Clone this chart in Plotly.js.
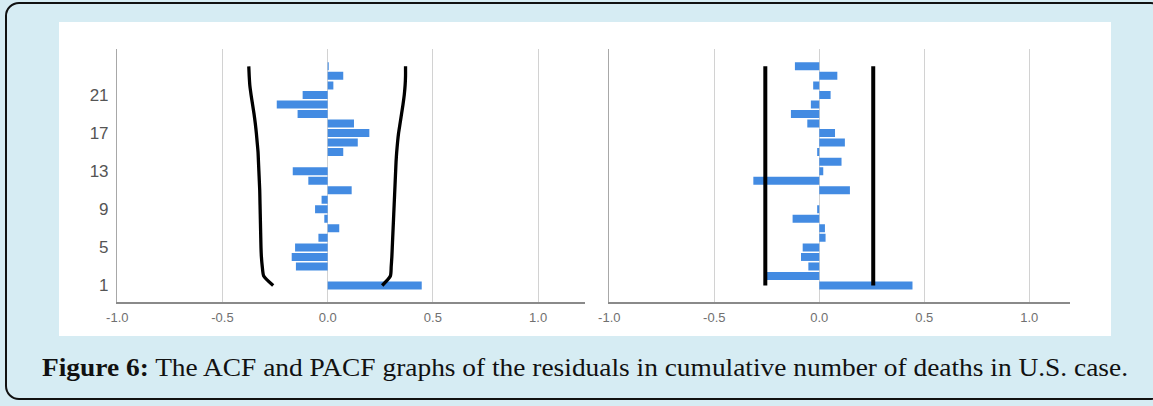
<!DOCTYPE html>
<html>
<head>
<meta charset="utf-8">
<script src="https://cdn.plot.ly/plotly-3.0.1.min.js"></script>
<style>
  html, body { margin: 0; padding: 0; }
  body { width: 1153px; height: 406px; overflow: hidden; background: #D6ECF3; position: relative; }
  #frame { position: absolute; left: 5px; top: 2px; width: 1160px; height: 398px;
           border: 2px solid #111; border-radius: 14px; box-sizing: border-box; }
  #chart { position: absolute; left: 59px; top: 22px; width: 1052px; height: 314px; background: #fff; }
  #caption { position: absolute; left: 42px; top: 355px; white-space: nowrap;
             font-family: "Liberation Serif", "DejaVu Serif", serif; font-size: 25px;
             line-height: 25px; color: #111; transform-origin: 0 0; }
  #caption b { font-weight: bold; }
</style>
</head>
<body>
<div id="frame"></div>
<div id="chart"></div>
<div id="caption"><b>Figure 6:</b> The ACF and PACF graphs of the residuals in cumulative number of deaths in U.S. case.</div>
<script>
// Lag numbers
var lags = [1,2,3,4,5,6,7,8,9,10,11,12,13,14,15,16,17,18,19,20,21,22,23,24];
// ACF of residuals (left panel)
var acfValues = [0.447, 0.000, -0.151, -0.171, -0.155, -0.044, 0.055, -0.016, -0.060, -0.029,
                 0.114, -0.092, -0.166, 0.000, 0.074, 0.143, 0.198, 0.125, -0.143, -0.242,
                 -0.119, 0.027, 0.074, 0.005];
// ACF confidence limits (curved)
var acfUpper = [0.259, 0.298, 0.302, 0.305, 0.307, 0.309, 0.311, 0.313, 0.315, 0.317,
                0.319, 0.321, 0.323, 0.325, 0.328, 0.332, 0.337, 0.344, 0.351, 0.358,
                0.364, 0.368, 0.370, 0.370];
var acfLower = [-0.259, -0.304, -0.311, -0.315, -0.317, -0.318, -0.319, -0.320, -0.321, -0.322,
                -0.323, -0.325, -0.327, -0.329, -0.331, -0.335, -0.339, -0.344, -0.350, -0.357,
                -0.364, -0.370, -0.373, -0.375];
// PACF of residuals (right panel)
var pacfValues = [0.444, -0.254, -0.052, -0.087, -0.079, 0.030, 0.027, -0.127, -0.010, 0.000,
                  0.146, -0.314, 0.019, 0.106, -0.010, 0.122, 0.075, -0.057, -0.135, -0.040,
                  0.054, -0.029, 0.086, -0.116];
// PACF confidence limit (constant)
var pacfLimit = 0.257;
// Axis tick labels
var xTickVals = [-1, -0.5, 0, 0.5, 1];
var xTickText = ['-1.0', '-0.5', '0.0', '0.5', '1.0'];
var yTickVals = [1, 5, 9, 13, 17, 21];
var yTickText = ['1', '5', '9', '13', '17', '21'];

var barColor = '#438BE2';
var firstLag = lags[0], lastLag = lags[lags.length - 1];

var traces = [
  { type: 'bar', orientation: 'h', x: acfValues, y: lags, xaxis: 'x', yaxis: 'y',
    marker: { color: barColor, line: { width: 0 } }, hoverinfo: 'x+y' },
  { type: 'scatter', mode: 'lines', x: acfUpper, y: lags, xaxis: 'x', yaxis: 'y',
    line: { color: '#000', width: 3.3, shape: 'spline', smoothing: 0.6 } },
  { type: 'scatter', mode: 'lines', x: acfLower, y: lags, xaxis: 'x', yaxis: 'y',
    line: { color: '#000', width: 3.3, shape: 'spline', smoothing: 0.6 } },
  { type: 'bar', orientation: 'h', x: pacfValues, y: lags, xaxis: 'x2', yaxis: 'y2',
    marker: { color: barColor, line: { width: 0 } }, hoverinfo: 'x+y' },
  { type: 'scatter', mode: 'lines', x: [-pacfLimit, -pacfLimit], y: [firstLag, lastLag],
    xaxis: 'x2', yaxis: 'y2', line: { color: '#000', width: 4 } },
  { type: 'scatter', mode: 'lines', x: [pacfLimit, pacfLimit], y: [firstLag, lastLag],
    xaxis: 'x2', yaxis: 'y2', line: { color: '#000', width: 4 } }
];

var xCommon = {
  tickvals: xTickVals, ticktext: xTickText, ticks: '', ticklabelstandoff: 3,
  showgrid: true, gridcolor: '#d2d2d2', gridwidth: 1,
  zeroline: false, showline: true, linecolor: '#8a8a8a', linewidth: 1.5,
  tickfont: { family: 'Liberation Sans, Arial, sans-serif', size: 13, color: '#707070' },
  fixedrange: true
};
var yCommon = {
  range: [-0.73, 25.82], tickvals: yTickVals, ticktext: yTickText, ticks: '',
  showgrid: false, zeroline: false, showline: true, linecolor: '#a8a8a8', linewidth: 1.3,
  tickfont: { family: 'Liberation Sans, Arial, sans-serif', size: 17, color: '#555' },
  fixedrange: true
};

var layout = {
  width: 1052, height: 314,
  margin: { l: 0, r: 0, t: 27, b: 34 },
  paper_bgcolor: '#fff', plot_bgcolor: '#fff',
  showlegend: false, bargap: 0.16,
  xaxis: Object.assign({}, xCommon, { domain: [0.0554, 0.5], range: [-1, 1.223], anchor: 'y' }),
  yaxis: Object.assign({}, yCommon, { anchor: 'x', ticklabelstandoff: 4 }),
  xaxis2: Object.assign({}, xCommon, { domain: [0.5231, 0.961], range: [-1, 1.194], anchor: 'y2' }),
  yaxis2: Object.assign({}, yCommon, { anchor: 'x2', showticklabels: false })
};

Plotly.newPlot('chart', traces, layout, { displayModeBar: false, staticPlot: true });

// Fit caption width to the reference (about 1086 px wide) with a horizontal scale
(function () {
  var cap = document.getElementById('caption');
  var w = cap.getBoundingClientRect().width;
  var target = 1086;
  cap.style.transform = 'scaleX(' + (target / w).toFixed(4) + ')';
})();
</script>
</body>
</html>
